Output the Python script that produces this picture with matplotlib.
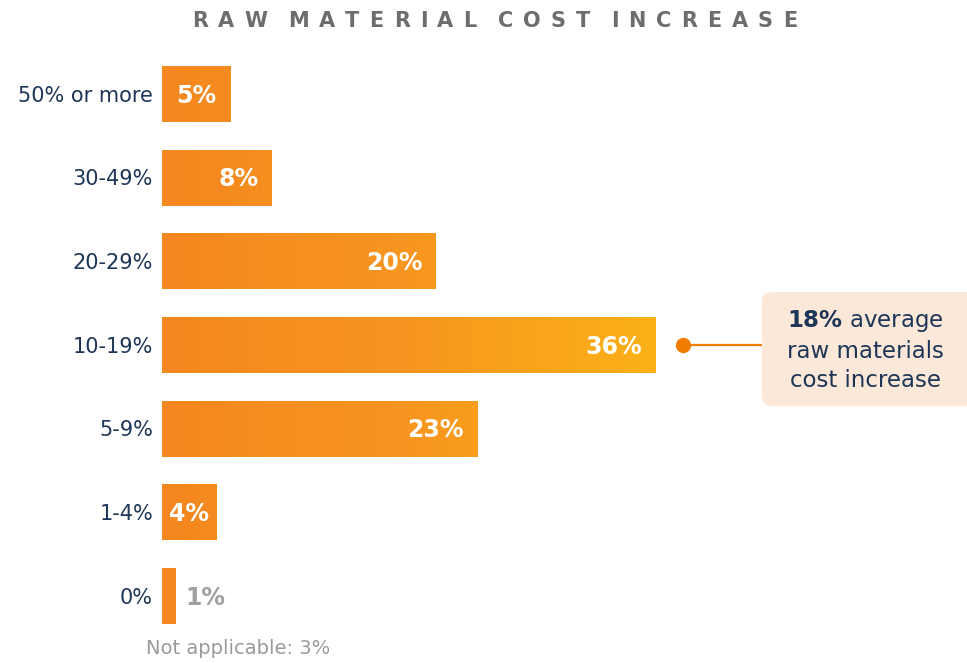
import numpy as np
import matplotlib.pyplot as plt
from matplotlib.colors import LinearSegmentedColormap
from matplotlib.patches import Rectangle, FancyBboxPatch

categories = ["50% or more", "30-49%", "20-29%", "10-19%", "5-9%", "1-4%", "0%"]
shares = [5, 8, 20, 36, 23, 4, 1]
not_applicable = 3
average_increase = 18

plt.rcParams['font.family'] = ['DejaVu Sans']

navy = '#1d3557'
grad = LinearSegmentedColormap.from_list('bar', ['#F48720', '#F7961F', '#FBB117'])

fig = plt.figure(figsize=(9.67, 6.63), dpi=100)
# axes laid out so each % is ~13.7 px wide and rows are ~84 px apart
ax = fig.add_axes([162 / 967, 1 - 638 / 663, 685 / 967, 586 / 663])
ax.set_xlim(0, 50)
ax.set_ylim(len(categories) - 0.5, -0.5)
ax.axis('off')

xmax = max(shares)
gradient = np.linspace(0, 1, 256).reshape(1, -1)
for i, (cat, v) in enumerate(zip(categories, shares)):
    rect = Rectangle((0, i - 0.335), v, 0.67, facecolor='none', edgecolor='none')
    ax.add_patch(rect)
    im = ax.imshow(gradient, cmap=grad, aspect='auto',
                   extent=(0, xmax, i + 0.335, i - 0.335), zorder=2)
    im.set_clip_path(rect)
    ax.text(-0.65, i + 0.02, cat, ha='right', va='center', fontsize=15, color=navy)
    label = f"{v}%"
    if v >= 3:
        if v < 6:
            ax.text(v / 2, i + 0.02, label, ha='center', va='center', fontsize=17,
                    fontweight='bold', color='white', zorder=3)
        else:
            ax.text(v - 0.95, i + 0.02, label, ha='right', va='center', fontsize=17,
                    fontweight='bold', color='white', zorder=3)
    else:
        ax.text(v + 0.7, i + 0.02, label, ha='left', va='center', fontsize=17,
                fontweight='bold', color='#a0a0a0', zorder=3)

ax.set_ylim(len(categories) - 0.5, -0.5)
ax.set_xlim(0, 50)

# callout for the average increase
row = categories.index("10-19%")
ax.plot([38.0, 44.0], [row, row], color='#F07D00', lw=1.6, clip_on=False, zorder=3)
ax.plot([38.0], [row], 'o', color='#F07D00', ms=10, clip_on=False, zorder=4)

box = FancyBboxPatch((762 / 967, 1 - 406 / 663), 220 / 967, 114 / 663,
                     boxstyle='round,pad=0,rounding_size=0.012',
                     transform=fig.transFigure, facecolor='#FCE8D8',
                     edgecolor='none')
fig.patches.append(box)
fig.text(865 / 967, 1 - 321 / 663, f"$\\bf{{{average_increase}\\%}}$ average",
         ha='center', va='center', fontsize=16.5, color=navy)
fig.text(865 / 967, 1 - 351 / 663, "raw materials", ha='center', va='center',
         fontsize=16.5, color=navy)
fig.text(865 / 967, 1 - 381 / 663, "cost increase", ha='center', va='center',
         fontsize=16.5, color=navy)

fig.text(146 / 967, 1 - 649 / 663, f"Not applicable: {not_applicable}%",
         ha='left', va='center', fontsize=14, color='#9a9a9a')

# title with wide letter tracking, laid out one glyph at a time
title = "RAW MATERIAL COST INCREASE"
x0, x1, ty = 192, 797, 1 - 21 / 663
renderer = fig.canvas.get_renderer()
glyphs = []
for ch in title:
    if ch == ' ':
        glyphs.append((None, 0))
        continue
    t = fig.text(0, ty, ch, ha='left', va='center', fontsize=15,
                 fontweight='bold', color='#6d6d6d')
    glyphs.append((t, t.get_window_extent(renderer).width))
letters = [g for g in glyphs if g[0] is not None]
n_words = title.count(' ')
word_extra = 11
tracking = (x1 - x0 - sum(w for _, w in letters) - n_words * word_extra) / (len(title) - 1 - n_words)
x = x0
for t, w in glyphs:
    if t is None:
        x += word_extra
        continue
    t.set_x(x / 967)
    x += w + tracking

fig.savefig('out.png', dpi=100, facecolor='white')
